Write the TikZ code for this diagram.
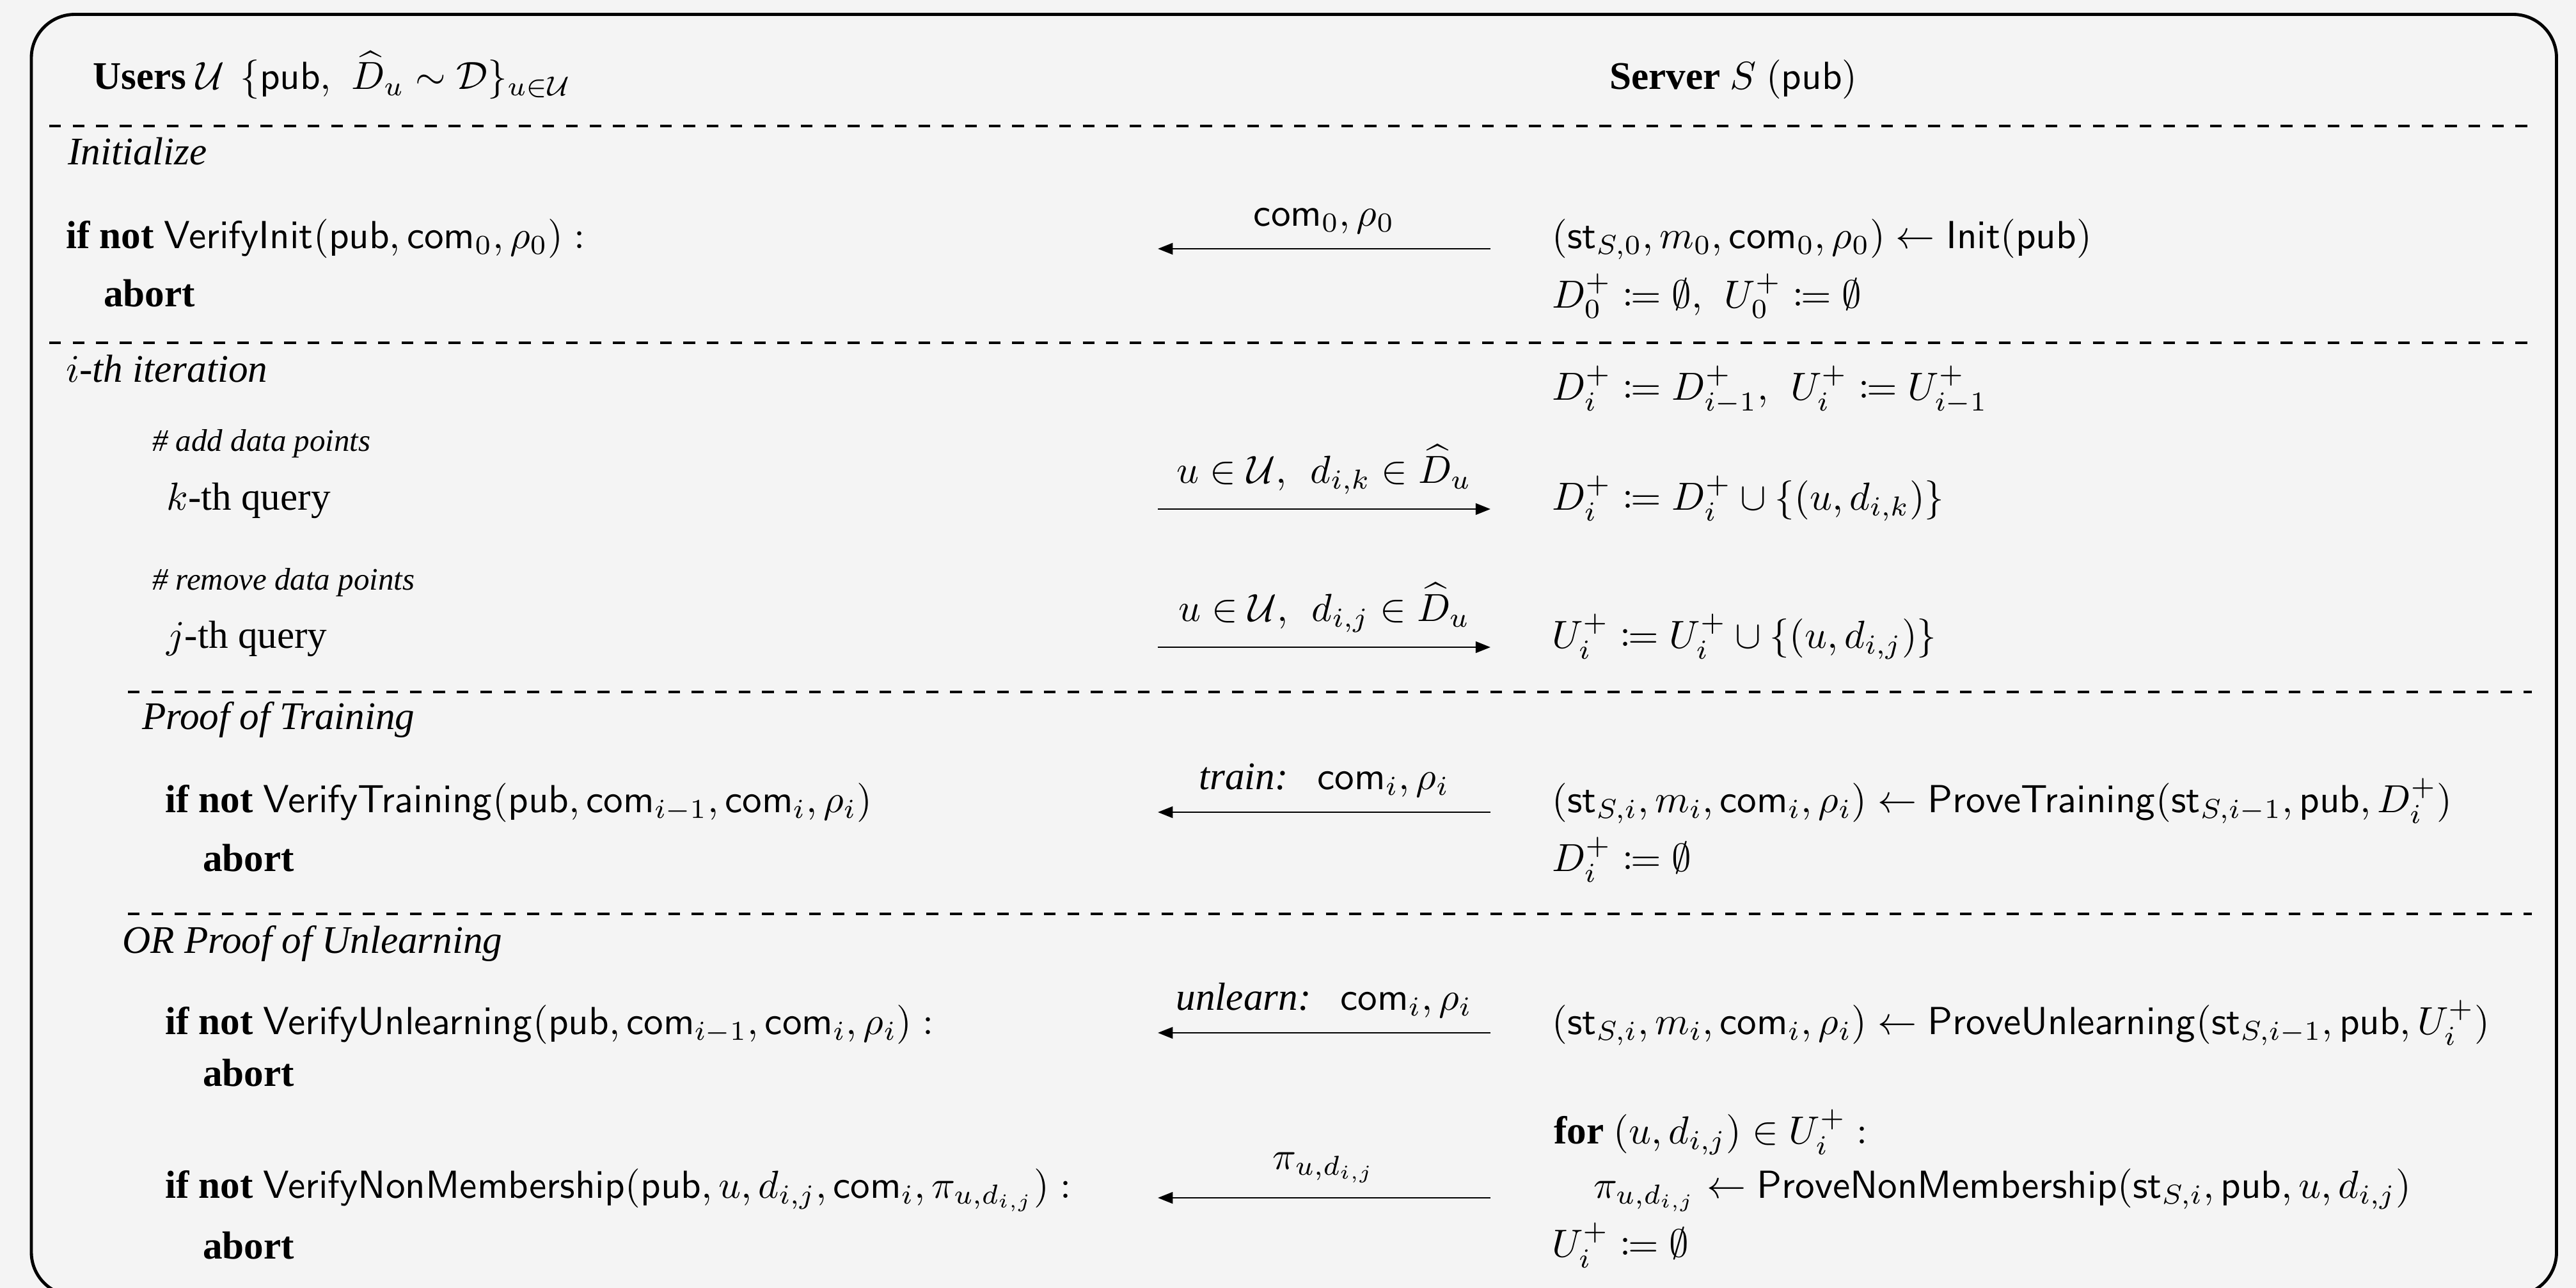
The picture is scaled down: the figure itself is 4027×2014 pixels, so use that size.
\documentclass[tikz,border=0pt]{standalone}
\usepackage{amsmath,amssymb}
\usepackage{mathtools}
\usepackage[no-math]{fontspec}
\setmainfont{Liberation Serif}
\usetikzlibrary{arrows.meta}
\definecolor{bgc}{HTML}{F4F4F4}
\newcommand{\gapp}{\hspace{4.5pt}}
\tikzset{
  txt/.style={anchor=base west, inner sep=0pt},
  lbl/.style={above=3.6pt, inner sep=0pt},
  msg/.style={line width=0.45pt, -{Triangle[length=3.8pt,width=2.9pt]}},
  sepline/.style={dashed, line width=0.5pt},
  frame/.style={line width=0.8pt, rounded corners=11.1pt}
}
\begin{document}
\begin{tikzpicture}[x=0.163399pt, y=-0.163399pt]
\fill[bgc] (0,0) rectangle (4027,2014);
\useasboundingbox (0,0) rectangle (4027,2014);
\draw[frame] (49,22.5) rectangle (3996.5,2026);

% header
\node[txt] (hU) at (144,140) {\textbf{Users} $\mathcal{U}$\hspace{1.5pt} $\{\mathsf{pub},\hspace{3.5pt}\widehat{D}_u \sim \mathcal{D}\}_{u\in\mathcal{U}}$};
\node[txt] (hS) at (2515,140) {\textbf{Server} $S$ $(\mathsf{pub})$};
\coordinate (d1a) at (77,197); \coordinate (d1b) at (3958,197);
\draw[sepline] (d1a) -- (d1b);

% initialize
\node[txt] (sInit) at (105,258) {\textit{Initialize}};
\node[txt] (uInit) at (102,388) {\textbf{if not} $\mathsf{VerifyInit}(\mathsf{pub},\mathsf{com}_0,\rho_0):$};
\node[txt] (uAb0) at (161,480) {\textbf{abort}};
\node[txt] (sInit1) at (2425,388) {$(\mathsf{st}_{S,0},m_0,\mathsf{com}_0,\rho_0)\leftarrow\mathsf{Init}(\mathsf{pub})$};
\node[txt] (sInit2) at (2425,481) {$D_0^+\coloneqq\emptyset,\hspace{4pt}U_0^+\coloneqq\emptyset$};
\coordinate (m1u) at (1810,389); \coordinate (m1s) at (2330,389);
\draw[msg] (m1s) -- node[midway, lbl] (l1) {$\mathsf{com}_0,\rho_0$} (m1u);
\coordinate (d2a) at (77,536); \coordinate (d2b) at (3958,536);
\draw[sepline] (d2a) -- (d2b);

% iteration
\node[txt] (sIter) at (102,598) {\textit{$i$-th iteration}};
\node[txt] (sIt1) at (2425,625) {$D_i^+\coloneqq D_{i-1}^+,\hspace{4pt}U_i^+\coloneqq U_{i-1}^+$};
\node[txt] (cAdd) at (237,705) {\footnotesize\textit{\# add data points}};
\node[txt] (uK) at (259,797) {$k$-th query};
\node[txt] (sK) at (2425,797) {$D_i^+\coloneqq D_i^+\cup\{(u,d_{i,k})\}$};
\coordinate (m2u) at (1810,796); \coordinate (m2s) at (2330,796);
\draw[msg] (m2u) -- node[midway, lbl] (l2) {$u\in\mathcal{U},\gapp d_{i,k}\in\widehat{D}_u$} (m2s);
\node[txt] (cRem) at (237,922) {\footnotesize\textit{\# remove data points}};
\node[txt] (uJ) at (259,1013) {$j$-th query};
\node[txt] (sJ) at (2425,1013) {$U_i^+\coloneqq U_i^+\cup\{(u,d_{i,j})\}$};
\coordinate (m3u) at (1810,1012); \coordinate (m3s) at (2330,1012);
\draw[msg] (m3u) -- node[midway, lbl] (l3) {$u\in\mathcal{U},\gapp d_{i,j}\in\widehat{D}_u$} (m3s);
\coordinate (d3a) at (200,1082); \coordinate (d3b) at (3958,1082);
\draw[sepline] (d3a) -- (d3b);

% training
\node[txt] (sTrain) at (221,1140) {\textit{Proof of Training}};
\node[txt] (uTr) at (257,1270) {\textbf{if not} $\mathsf{VerifyTraining}(\mathsf{pub},\mathsf{com}_{i-1},\mathsf{com}_i,\rho_i)$};
\node[txt] (uAb1) at (316,1362) {\textbf{abort}};
\node[txt] (sTr1) at (2425,1270) {$(\mathsf{st}_{S,i},m_i,\mathsf{com}_i,\rho_i)\leftarrow\mathsf{ProveTraining}(\mathsf{st}_{S,i-1},\mathsf{pub},D_i^+)$};
\node[txt] (sTr2) at (2425,1362) {$D_i^+\coloneqq\emptyset$};
\coordinate (m4u) at (1810,1270); \coordinate (m4s) at (2330,1270);
\draw[msg] (m4s) -- node[midway, lbl] (l4) {\textit{train:}\hspace{0.75em}$\mathsf{com}_i,\rho_i$} (m4u);
\coordinate (d4a) at (200,1429); \coordinate (d4b) at (3958,1429);
\draw[sepline] (d4a) -- (d4b);

% unlearning
\node[txt] (sUnl) at (190,1490) {\textit{OR Proof of Unlearning}};
\node[txt] (uUn) at (257,1617) {\textbf{if not} $\mathsf{VerifyUnlearning}(\mathsf{pub},\mathsf{com}_{i-1},\mathsf{com}_i,\rho_i):$};
\node[txt] (uAb2) at (316,1698) {\textbf{abort}};
\node[txt] (sUn1) at (2425,1617) {$(\mathsf{st}_{S,i},m_i,\mathsf{com}_i,\rho_i)\leftarrow\mathsf{ProveUnlearning}(\mathsf{st}_{S,i-1},\mathsf{pub},U_i^+)$};
\coordinate (m5u) at (1810,1615); \coordinate (m5s) at (2330,1615);
\draw[msg] (m5s) -- node[midway, lbl] (l5) {\textit{unlearn:}\hspace{0.75em}$\mathsf{com}_i,\rho_i$} (m5u);

\node[txt] (sFor) at (2428,1788) {\textbf{for} $(u,d_{i,j})\in U_i^+:$};
\node[txt] (sPi) at (2490,1873) {$\pi_{u,d_{i,j}}\leftarrow\mathsf{ProveNonMembership}(\mathsf{st}_{S,i},\mathsf{pub},u,d_{i,j})$};
\node[txt] (sEnd) at (2425,1965) {$U_i^+\coloneqq\emptyset$};
\node[txt] (uNM) at (257,1873) {\textbf{if not} $\mathsf{VerifyNonMembership}(\mathsf{pub},u,d_{i,j},\mathsf{com}_i,\pi_{u,d_{i,j}}):$};
\node[txt] (uAb3) at (316,1968) {\textbf{abort}};
\coordinate (m6u) at (1810,1873); \coordinate (m6s) at (2330,1873);
\draw[msg] (m6s) -- node[midway, lbl] (l6) {$\pi_{u,d_{i,j}}$} (m6u);
\end{tikzpicture}
\end{document}
